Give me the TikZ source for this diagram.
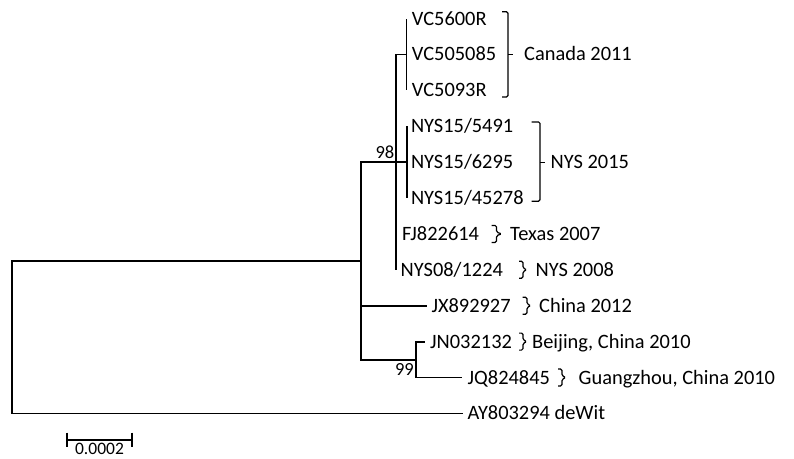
\documentclass[tikz,border=0pt]{standalone}
\usepackage{fontspec}
\setmainfont{Carlito}
\begin{document}
\begin{tikzpicture}[x=1pt,y=-1pt,
  br/.style={line width=1.8pt, line join=miter},
  brk/.style={line width=1.2pt, rounded corners=1.5pt},
  leaf/.style={anchor=base west, inner sep=0pt, font=\fontsize{20.4}{24}\selectfont},
  boot/.style={anchor=base east, inner sep=0pt, font=\fontsize{18.5}{22}\selectfont},
  scl/.style={anchor=base, inner sep=0pt, font=\fontsize{17.5}{21}\selectfont}]
\useasboundingbox (0,0) rectangle (794,458);
% inner nodes
\coordinate (R) at (12,337.2);
\coordinate (I) at (360.7,260.9);
\coordinate (N98) at (396,162.1);
\coordinate (C) at (406.5,54.4);
\coordinate (S) at (407,162.1);
\coordinate (N99) at (415.7,359.6);
% tips
\coordinate (tV1) at (406.5,18.5);
\coordinate (tV2) at (406.5,54.4);
\coordinate (tV3) at (406.5,90.3);
\coordinate (tS1) at (407,126.2);
\coordinate (tS2) at (407,162.1);
\coordinate (tS3) at (407,198.0);
\coordinate (tFJ) at (396,233.9);
\coordinate (tN8) at (396,269.8);
\coordinate (tJX) at (427,305.7);
\coordinate (tJN) at (425,341.6);
\coordinate (tJQ) at (461.7,377.5);
\coordinate (tAY) at (463,413.4);
% branches
\draw[br] (R) |- (I);
\draw[br] (R) |- (tAY);
\draw[br] (I) |- (N98);
\draw[br] (I) |- (tJX);
\draw[br] (I) |- (N99);
\draw[br] (N98) |- (C);
\draw[br] (N98) |- (S);
\draw[br] (N98) -- (tN8);
\draw[br] (C) -- (tV1);
\draw[br] (C) -- (tV3);
\draw[br] (S) -- (tS1);
\draw[br] (S) -- (tS3);
\draw[br] (N99) |- (tJN);
\draw[br] (N99) |- (tJQ);
% leaf labels
\node[leaf] (V1) at (411.7,25.0) {VC5600R};
\node[leaf] (V2) at (411.7,60.9) {VC505085};
\node[leaf] (V3) at (411.7,96.8) {VC5093R};
\node[leaf] (S1) at (410.8,132.7) {NYS15/5491};
\node[leaf] (S2) at (410.8,168.6) {NYS15/6295};
\node[leaf] (S3) at (410.8,204.5) {NYS15/45278};
\node[leaf] (FJ) at (402,240.4) {FJ822614};
\node[leaf] (N8) at (400.5,276.3) {NYS08/1224};
\node[leaf] (JX) at (431.5,312.2) {JX892927};
\node[leaf] (JN) at (430,348.1) {JN032132};
\node[leaf] (JQ) at (467.5,384.0) {JQ824845};
\node[leaf] (AY) at (467.5,419.9) {AY803294 deWit};
% bootstrap values
\node[boot] (b98) at (394.5,158.5) {98};
\node[boot] (b99) at (414,375) {99};
% group brackets
\draw[brk] (502,11.7) -- (508,11.7) -- (508,96.9) -- (502,96.9);
\draw[brk] (508,54.4) -- (513,54.4);
\node[leaf] (gCan) at (524,60.9) {Canada 2011};
\draw[brk] (531.7,121.9) -- (540,121.9) -- (540,201.3) -- (531.7,201.3);
\draw[brk] (540,162.1) -- (545,162.1);
\node[leaf] (gNYS15) at (550.5,168.6) {NYS 2015};
\draw[brk] (491.7,225.4) -- (496.5,225.4) -- (496.5,232.2) -- (501.7,233.9) -- (496.5,235.6) -- (496.5,242.4) -- (491.7,242.4);
\node[leaf] (gTex) at (510,240.4) {Texas 2007};
\draw[brk] (519,261.3) -- (523,261.3) -- (523,268.1) -- (527,269.8) -- (523,271.5) -- (523,278.3) -- (519,278.3);
\node[leaf] (gN8) at (535.5,276.3) {NYS 2008};
\draw[brk] (522.7,297.2) -- (527,297.2) -- (527,304) -- (531,305.7) -- (527,307.4) -- (527,314.2) -- (522.7,314.2);
\node[leaf] (gCh) at (539,312.2) {China 2012};
\draw[brk] (519,333.1) -- (523,333.1) -- (523,339.9) -- (527,341.6) -- (523,343.3) -- (523,350.1) -- (519,350.1);
\node[leaf] (gBJ) at (532,348.1) {Beijing, China 2010};
\draw[brk] (558,369) -- (562,369) -- (562,375.8) -- (566,377.5) -- (562,379.2) -- (562,386) -- (558,386);
\node[leaf] (gGZ) at (578.5,384.0) {Guangzhou, China 2010};
% scale bar
\coordinate (s1) at (67,440);
\coordinate (s2) at (132,440);
\draw[br] (s1) -- (s2);
\draw[br] (67,432.5) -- (67,446.5);
\draw[br] (132,432.5) -- (132,446.5);
\node[scl] (sl) at (99.5,454.5) {0.0002};
\end{tikzpicture}
\end{document}
